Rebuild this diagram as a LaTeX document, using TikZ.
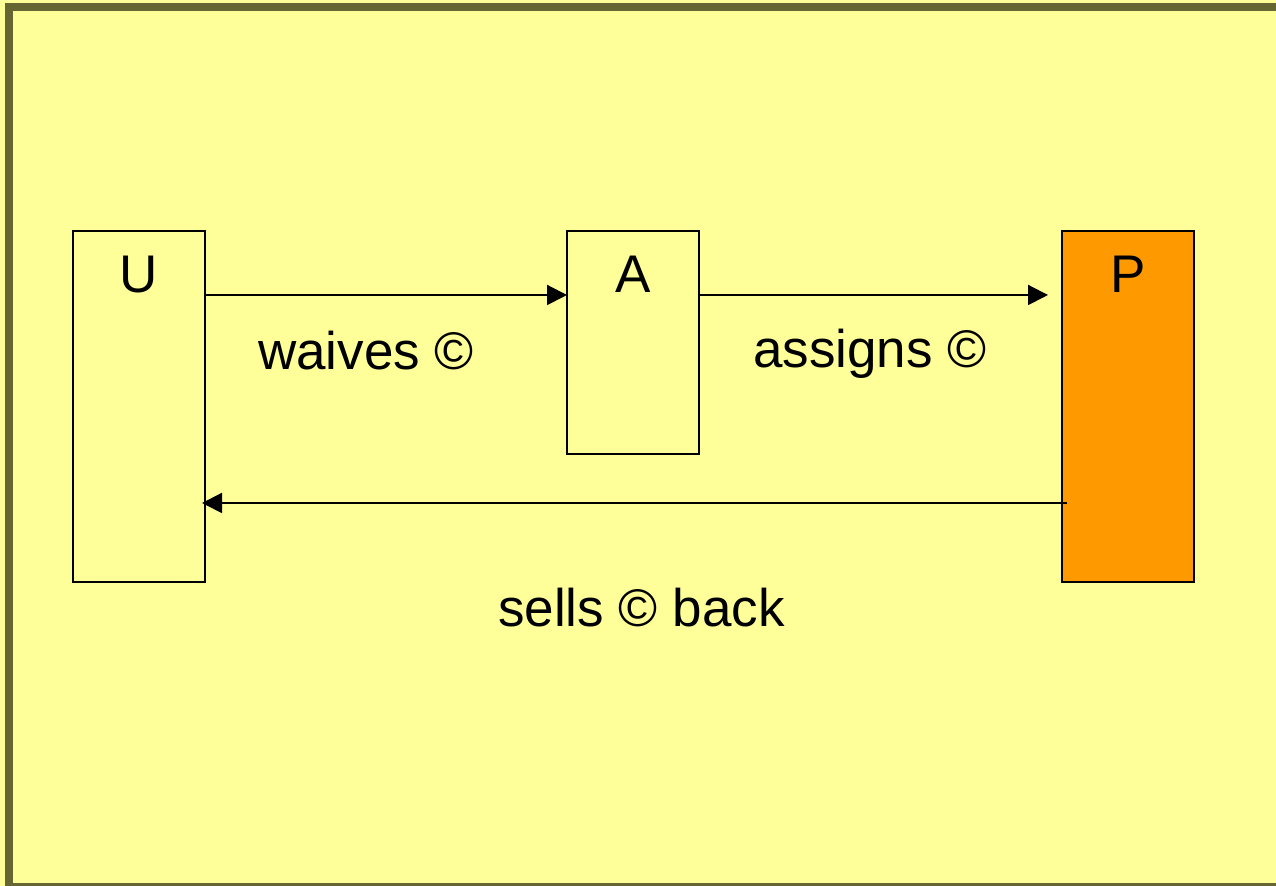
\documentclass[tikz,border=0pt]{standalone}
\usepackage{fontspec}
\setmainfont{Liberation Sans}
\usetikzlibrary{arrows.meta,positioning}
\definecolor{slideyellow}{HTML}{FFFF99}
\definecolor{slideframe}{HTML}{666633}
\definecolor{pubOrange}{HTML}{FF9900}
\begin{document}
\begin{tikzpicture}[x=1pt,y=1pt,
    every node/.style={font=\fontsize{26.5}{31}\selectfont},
    party/.style={rectangle,draw,line width=1pt,minimum width=66pt,inner sep=0pt,outer sep=0pt,anchor=north west},
    flow/.style={-{Triangle[length=10pt,width=10pt]},line width=1pt}]
    \useasboundingbox (0,0) rectangle (638,443);
    \fill[slideyellow] (0,0) rectangle (638,443);
    \draw[slideframe,line width=4pt] (4.5,-0.5) rectangle (645,439.5);

    \node[party,minimum height=175.5pt,label={[anchor=north,inner sep=0pt,yshift=-12.5pt]north:U}] (U) at (36.5,327.5) {};
    \node[party,minimum height=111.5pt,label={[anchor=north,inner sep=0pt,yshift=-12.5pt]north:A}] (A) at ([xshift=181pt]U.north east) {};
    \node[party,fill=pubOrange,minimum height=175.5pt,label={[anchor=north,inner sep=0pt,yshift=-12.5pt]north:P}] (P) at ([xshift=181.5pt]A.north east) {};

    \node[anchor=base] (waives) at (183,258) {waives ©};
    \node[anchor=base] (assigns) at (435,259) {assigns ©};
    \node[anchor=base] (sellsback) at (320.75,129.5) {sells © back};

    \draw[flow] ([yshift=-32pt]U.north east) -- ([yshift=-32pt]A.north west) ;
    \draw[flow,shorten >=7pt] ([yshift=-32pt]A.north east) -- ([yshift=-32pt]P.north west) ;
    \draw[flow,shorten >=-1.5pt] ([xshift=2.5pt,yshift=39.5pt]P.south west) -- ([yshift=39.5pt]U.south east) ;
\end{tikzpicture}
\end{document}
